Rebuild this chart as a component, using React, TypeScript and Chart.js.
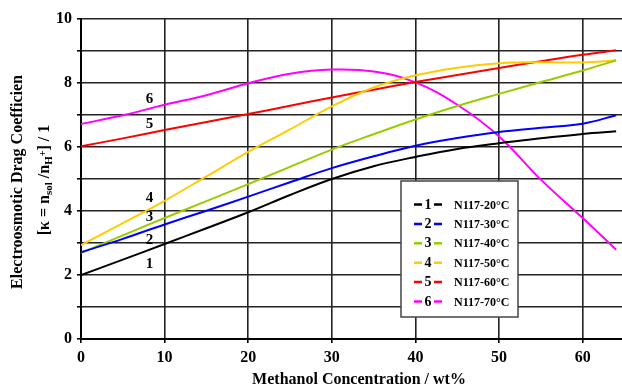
import React, { useEffect, useRef } from 'react';
import { Chart, registerables } from 'chart.js';

Chart.register(...registerables);

// Methanol concentration (wt%)
const methanolWt = [0, 5, 10, 15, 20, 25, 30, 35, 40, 45, 50, 55, 60, 64];
// Electroosmotic drag coefficient per temperature
const drag20 = [2.0, 2.48, 2.97, 3.46, 3.96, 4.5, 5.0, 5.4, 5.69, 5.94, 6.12, 6.27, 6.41, 6.49];
const drag30 = [2.71, 3.13, 3.58, 4.01, 4.45, 4.9, 5.34, 5.71, 6.04, 6.28, 6.47, 6.6, 6.73, 6.99];
const drag40 = [2.69, 3.24, 3.78, 4.31, 4.84, 5.38, 5.92, 6.4, 6.86, 7.28, 7.66, 8.03, 8.39, 8.71];
const drag50 = [2.93, 3.62, 4.32, 5.08, 5.85, 6.55, 7.27, 7.86, 8.24, 8.48, 8.62, 8.65, 8.64, 8.71];
const drag60 = [6.02, 6.27, 6.53, 6.78, 7.03, 7.29, 7.55, 7.79, 8.03, 8.25, 8.47, 8.68, 8.88, 9.02];
const drag70 = [6.72, 6.99, 7.32, 7.62, 7.99, 8.29, 8.42, 8.36, 8.02, 7.32, 6.33, 4.98, 3.78, 2.79];

const seriesNames = ['N117-20°C', 'N117-30°C', 'N117-40°C', 'N117-50°C', 'N117-60°C', 'N117-70°C'];
const seriesNumbers = ['1', '2', '3', '4', '5', '6'];
const seriesColors = ['#000000', '#0000ff', '#99cc00', '#ffcc00', '#ff0000', '#ff00ff'];
const seriesValues = [drag20, drag30, drag40, drag50, drag60, drag70];

// curve number annotations (data coordinates)
const numberLabelX = 8.2;
const numberLabelY = [2.35, 3.08, 3.8, 4.41, 6.7, 7.5];

const xTickValues = [0, 10, 20, 30, 40, 50, 60];
const xTitle = 'Methanol Concentration / wt%';
const yTitleLine1 = 'Electroosmotic Drag Coefficien';

const SERIF = '"Liberation Serif", "Times New Roman", serif';

const overlayPlugin = {
  id: 'overlay',
  afterDraw(chart: any) {
    const ctx = chart.ctx as CanvasRenderingContext2D;
    const xs = chart.scales.x;
    const ys = chart.scales.y;
    ctx.save();
    ctx.fillStyle = '#000';

    // curve numbers
    ctx.font = `bold 15px ${SERIF}`;
    ctx.textAlign = 'center';
    ctx.textBaseline = 'middle';
    seriesNumbers.forEach((n, i) => {
      ctx.fillText(n, xs.getPixelForValue(numberLabelX), ys.getPixelForValue(numberLabelY[i]));
    });

    // legend box
    const bx = 401, by = 181, bw = 117, bh = 136;
    ctx.fillStyle = '#fff';
    ctx.fillRect(bx, by, bw, bh);
    ctx.strokeStyle = '#444';
    ctx.lineWidth = 1.5;
    ctx.strokeRect(bx, by, bw, bh);
    chart.data.datasets.forEach((ds: any, i: number) => {
      const y = 204.5 + i * 19.4;
      ctx.strokeStyle = ds.borderColor;
      ctx.lineWidth = 2.5;
      ctx.beginPath();
      ctx.moveTo(414, y);
      ctx.lineTo(422, y);
      ctx.moveTo(434, y);
      ctx.lineTo(442, y);
      ctx.stroke();
      ctx.fillStyle = '#000';
      ctx.font = `bold 14px ${SERIF}`;
      ctx.textAlign = 'center';
      ctx.textBaseline = 'middle';
      ctx.fillText(seriesNumbers[i], 428, y + 0.5);
      ctx.font = `bold 12px ${SERIF}`;
      ctx.textAlign = 'left';
      ctx.fillText(ds.label, 454, y + 1);
    });

    // x title
    ctx.fillStyle = '#000';
    ctx.font = `bold 16px ${SERIF}`;
    ctx.textAlign = 'center';
    ctx.textBaseline = 'middle';
    ctx.fillText(xTitle, 359, 380);

    // y title line 1
    ctx.save();
    ctx.translate(18, 182);
    ctx.rotate(-Math.PI / 2);
    ctx.fillText(yTitleLine1, 0, 0);
    ctx.restore();

    // y title line 2 with sub/superscripts
    const segs = [
      { t: '[κ = n', s: 16, dy: 0 },
      { t: 'sol', s: 11, dy: 4 },
      { t: ' /n', s: 16, dy: 0 },
      { t: 'H', s: 11, dy: 4 },
      { t: '+', s: 10, dy: -2 },
      { t: '] / 1', s: 16, dy: 0 },
    ];
    let total = 0;
    const widths = segs.map((sg) => {
      ctx.font = `bold ${sg.s}px ${SERIF}`;
      const w = ctx.measureText(sg.t).width;
      total += w;
      return w;
    });
    ctx.save();
    ctx.translate(45, 180);
    ctx.rotate(-Math.PI / 2);
    ctx.textAlign = 'left';
    ctx.textBaseline = 'middle';
    let cx = -total / 2;
    segs.forEach((sg, i) => {
      ctx.font = `bold ${sg.s}px ${SERIF}`;
      ctx.fillText(sg.t, cx, sg.dy);
      cx += widths[i];
    });
    ctx.restore();

    ctx.restore();
  },
};

export default function App() {
  const ref = useRef<HTMLCanvasElement>(null);

  useEffect(() => {
    if (!ref.current) return;
    const chart = new Chart(ref.current, {
      type: 'line',
      data: {
        datasets: seriesValues.map((vals, i) => ({
          label: seriesNames[i],
          data: methanolWt.map((x, j) => ({ x, y: vals[j] })),
          borderColor: seriesColors[i],
          backgroundColor: seriesColors[i],
          borderWidth: 2,
          pointRadius: 0,
          tension: 0.4,
          fill: false,
        })),
      },
      options: {
        responsive: false,
        animation: false,
        devicePixelRatio: 1,
        layout: { padding: { top: 19, right: 0, bottom: 0, left: 0 } },
        plugins: {
          legend: { display: false },
          tooltip: { enabled: false },
          title: { display: false },
        },
        scales: {
          x: {
            type: 'linear',
            min: 0,
            max: 64.7,
            afterBuildTicks: (s: any) => {
              s.ticks = xTickValues.map((v) => ({ value: v }));
            },
            afterFit: (s: any) => {
              s.height = 52;
            },
            grid: {
              color: '#222',
              lineWidth: 1.6,
              drawOnChartArea: true,
              drawTicks: true,
              tickLength: 4,
              tickColor: '#000',
            },
            border: { display: true, color: '#000', width: 2 },
            ticks: {
              color: '#000',
              padding: 5,
              maxRotation: 0,
              autoSkip: false,
              font: { family: SERIF, size: 16, weight: 'bold' },
            },
          },
          y: {
            type: 'linear',
            min: 0,
            max: 10,
            afterFit: (s: any) => {
              s.width = 81;
            },
            grid: {
              color: '#222',
              lineWidth: 1.6,
              drawTicks: true,
              tickLength: 4,
              tickColor: '#000',
            },
            border: { display: true, color: '#000', width: 2 },
            ticks: {
              stepSize: 1,
              color: '#000',
              padding: 5,
              autoSkip: false,
              callback: (v: any) => (Number(v) % 2 === 0 ? String(v) : ''),
              font: { family: SERIF, size: 16, weight: 'bold' },
            },
          },
        },
      },
      plugins: [overlayPlugin],
    });
    return () => chart.destroy();
  }, []);

  return (
    <div
      style={{
        position: 'fixed',
        left: 0,
        top: 0,
        width: 622,
        height: 391,
        overflow: 'hidden',
        background: '#fff',
      }}
    >
      <canvas ref={ref} width={622} height={391} style={{ display: 'block' }} />
    </div>
  );
}
